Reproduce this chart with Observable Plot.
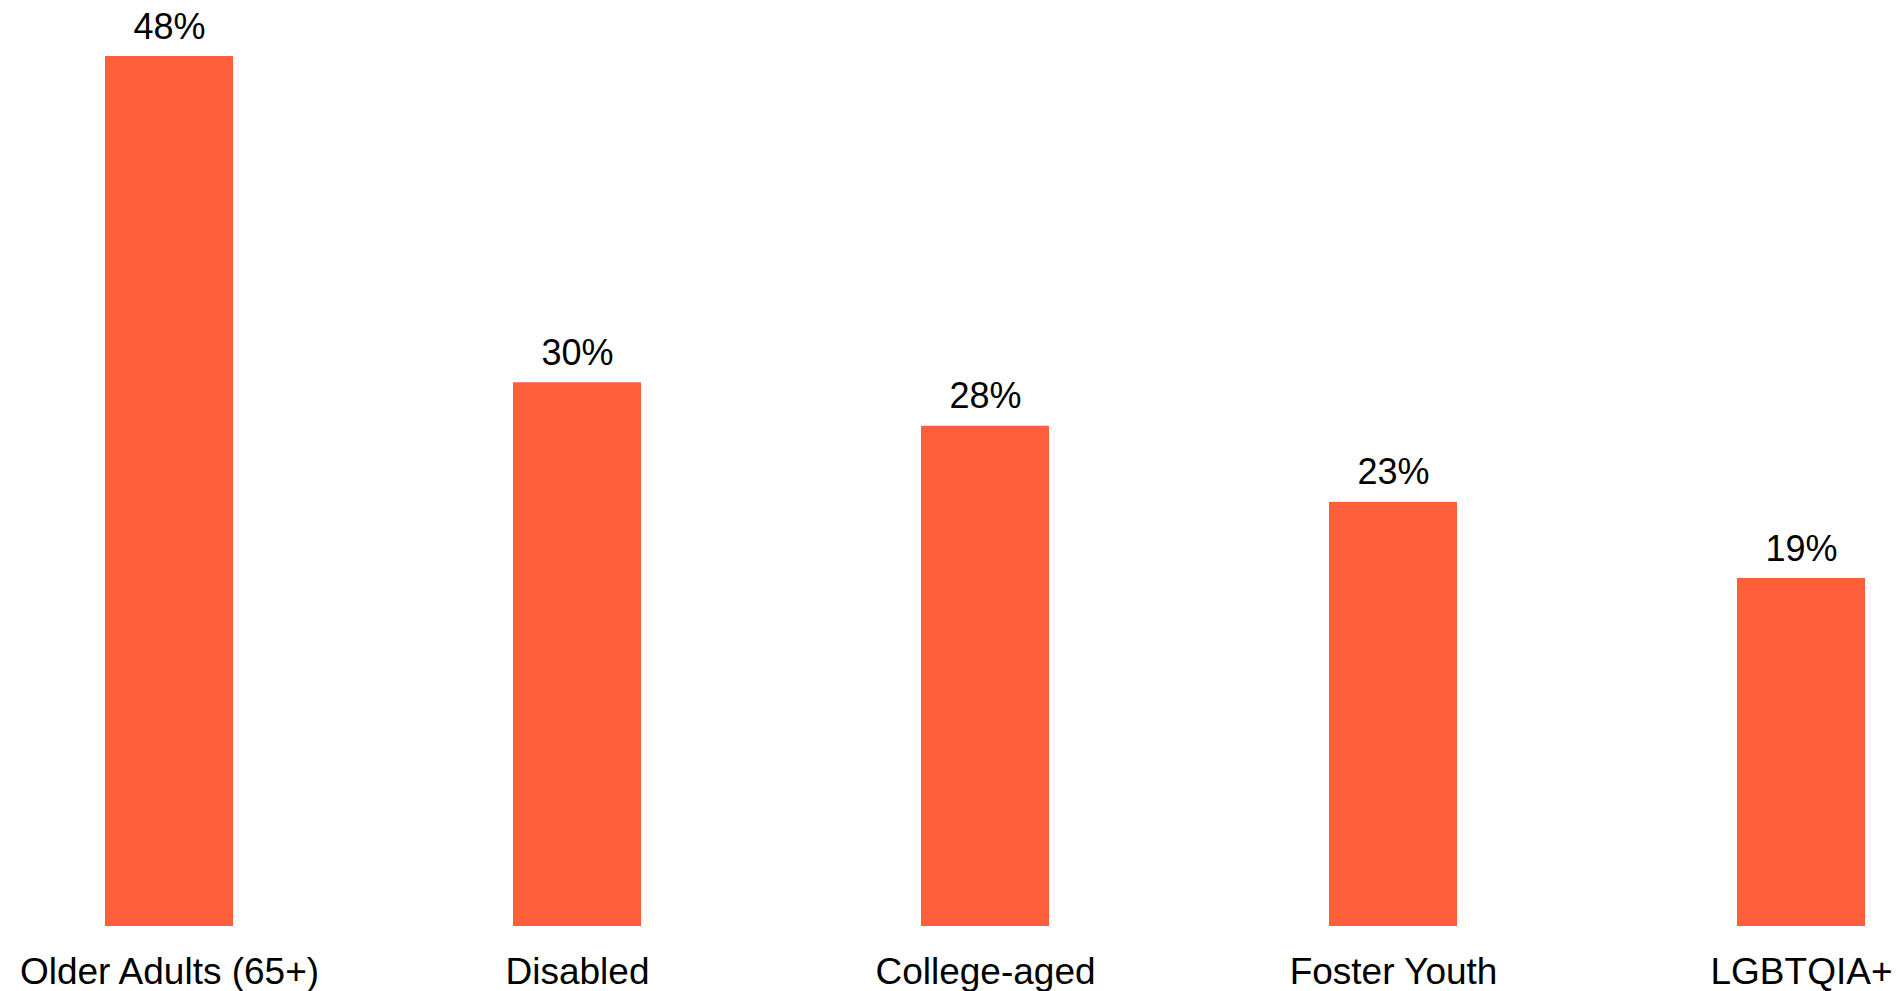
<!DOCTYPE html>
<html>
<head>
<meta charset="utf-8">
<script src="https://cdn.jsdelivr.net/npm/d3@7"></script>
<script src="https://cdn.jsdelivr.net/npm/@observablehq/plot@0.6"></script>
<style>
  html, body { margin: 0; padding: 0; background: #fff; overflow: hidden; }
  #chart svg { display: block; }
</style>
</head>
<body>
<div id="chart"></div>
<script>
const categories = ["Older Adults (65+)", "Disabled", "College-aged", "Foster Youth", "LGBTQIA+"];
const values = [48, 30, 27.6, 23.4, 19.2];
const valueLabels = ["48%", "30%", "28%", "23%", "19%"];

const data = categories.map((c, i) => ({category: c, value: values[i], label: valueLabels[i]}));

const chart = Plot.plot({
  width: 1903,
  height: 991,
  marginTop: 56,
  marginBottom: 65,
  marginLeft: 103.3,
  marginRight: 36.3,
  style: {fontFamily: "Arial, 'Liberation Sans', sans-serif", color: "#000", background: "#fff"},
  x: {domain: categories, paddingInner: 0.687, paddingOuter: 0, label: null},
  y: {domain: [0, 48], axis: null},
  marks: [
    Plot.barY(data, {x: "category", y: "value", fill: "#ff5e3a"}),
    Plot.text(data, {x: "category", y: "value", text: "label", lineAnchor: "bottom", dy: -18, fontSize: 36, fill: "#000"}),
    Plot.axisX({tickSize: 0, tickPadding: 31.5, fontSize: 37, label: null})
  ]
});
document.getElementById("chart").appendChild(chart);
</script>
</body>
</html>
